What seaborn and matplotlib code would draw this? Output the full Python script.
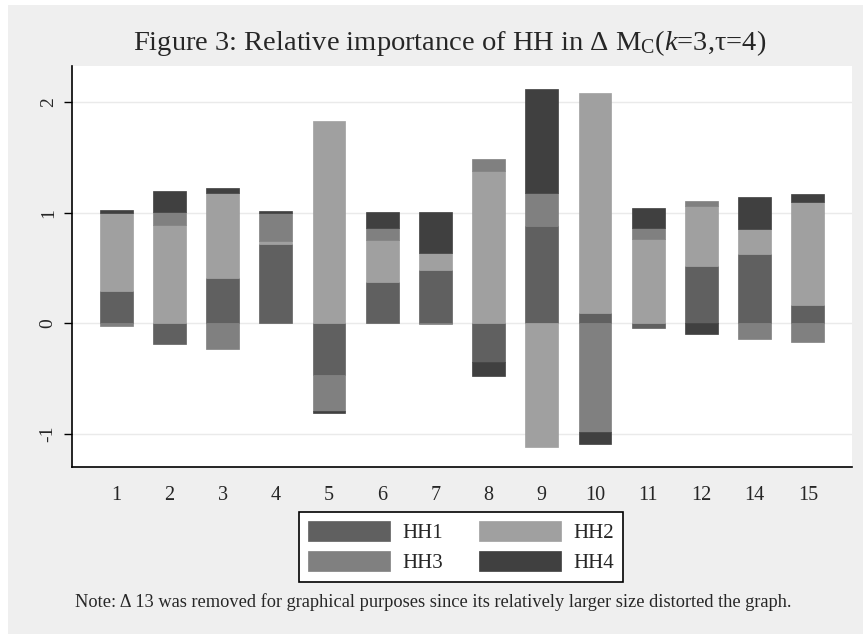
import numpy as np
import pandas as pd
import matplotlib
matplotlib.use("Agg")
import matplotlib.pyplot as plt
import seaborn as sns
from matplotlib.patches import Rectangle

# 데이터
units = ["1", "2", "3", "4", "5", "6", "7", "8", "9", "10", "11", "12", "14", "15"]
hh1 = [0.29, -0.19, 0.41, 0.72, -0.47, 0.375, 0.48, -0.35, 0.88, 0.09, -0.04, 0.52, 0.625, 0.166]
hh2 = [0.71, 0.89, 0.77, 0.03, 1.83, 0.38, 0.157, 1.38, -1.12, 2.00, 0.76, 0.547, 0.23, 0.937]
hh3 = [-0.02, 0.12, -0.23, 0.245, -0.32, 0.11, -0.01, 0.106, 0.30, -0.98, 0.103, 0.045, -0.142, -0.166]
hh4 = [0.027, 0.19, 0.05, 0.018, -0.02, 0.145, 0.375, -0.124, 0.94, -0.11, 0.18, -0.10, 0.293, 0.066]
series_names = ["HH1", "HH2", "HH3", "HH4"]
colors = ["#606060", "#a0a0a0", "#808080", "#404040"]

sns.set_style("white")
plt.rcParams['font.family'] = ['Liberation Serif', 'DejaVu Serif']
plt.rcParams['mathtext.fontset'] = 'custom'
plt.rcParams['mathtext.rm'] = 'Liberation Serif'
plt.rcParams['mathtext.it'] = 'Liberation Serif:italic'

fig = plt.figure(figsize=(8.63, 6.34), dpi=100, facecolor="white")
fig.patches.append(Rectangle((8 / 863, 0), 1, 1 - 5 / 634, transform=fig.transFigure,
                             facecolor="#efefef", edgecolor="none", zorder=-10))
ax = fig.add_axes([72 / 863, 167 / 634, 780 / 863, 401 / 634])
ax.set_facecolor("white")

# 양수/음수 따로 누적
pos_base = np.zeros(len(units))
neg_base = np.zeros(len(units))
for name, vals, col in zip(series_names, [hh1, hh2, hh3, hh4], colors):
    vals = np.array(vals)
    bottoms = np.where(vals >= 0, pos_base, neg_base)
    df = pd.DataFrame({"unit": units, "value": vals})
    sns.barplot(data=df, x="unit", y="value", order=units, color=col, bottom=bottoms,
                width=0.615, errorbar=None, saturation=1, edgecolor=col, linewidth=0.5,
                label=name, ax=ax, zorder=3)
    pos_base = pos_base + np.where(vals >= 0, vals, 0)
    neg_base = neg_base + np.where(vals < 0, vals, 0)

ax.set_xlim(-0.83, 13.83)
ax.set_ylim(-1.30, 2.33)
ax.set_yticks([-1, 0, 1, 2])
ax.set_yticklabels(["-1", "0", "1", "2"], rotation=90, va="center")
ax.yaxis.grid(True, color="#eaeaea", linewidth=1, zorder=0)
ax.set_axisbelow(True)
ax.set_xlabel("")
ax.set_ylabel("")
for s in ["top", "right"]:
    ax.spines[s].set_visible(False)
for s in ["left", "bottom"]:
    ax.spines[s].set_color("black")
    ax.spines[s].set_linewidth(1.2)
ax.tick_params(axis="y", which="both", left=True, length=6, width=1, color="black",
               labelsize=14, pad=5)
ax.tick_params(axis="x", bottom=False, labelsize=14.5, pad=10)
if ax.legend_ is not None:
    ax.legend_.remove()

# 범례: 행 우선 (HH1 HH2 / HH3 HH4)
handles, labels = ax.get_legend_handles_labels()
order = [0, 2, 1, 3]
leg = fig.legend([handles[i] for i in order], [labels[i] for i in order], ncol=2,
                 loc="upper center", bbox_to_anchor=(461 / 863, 1 - 512 / 634),
                 borderaxespad=0, frameon=True, fancybox=False, edgecolor="black",
                 facecolor="white", fontsize=15, handlelength=3.94, handleheight=1.1,
                 columnspacing=1.68, borderpad=0.42, labelspacing=0.4,
                 handletextpad=0.62, framealpha=1)
leg.get_frame().set_linewidth(1.2)

fig.text(450 / 863, 1 - 43 / 634,
         r"Figure 3: Relative importance of HH in Δ M$_\mathregular{C}$($\mathit{k}$=3,τ=4)",
         ha="center", va="center", fontsize=20.5)
fig.text(75 / 863, 1 - 602 / 634,
         "Note: Δ 13 was removed for graphical purposes since its relatively larger size distorted the graph.",
         ha="left", va="center", fontsize=13.2)

fig.savefig("out.png", dpi=100, facecolor=fig.get_facecolor())
